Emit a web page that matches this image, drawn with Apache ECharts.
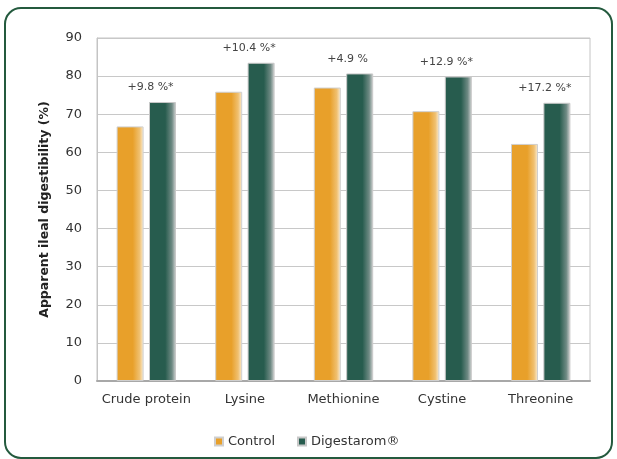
<!DOCTYPE html>
<html>
<head>
<meta charset="utf-8">
<script src="https://cdn.jsdelivr.net/npm/echarts@6/dist/echarts.min.js"></script>
<style>
  html, body { margin: 0; padding: 0; background: #fff; }
  #chart { width: 617px; height: 459px; }
</style>
</head>
<body>
<div id="chart"></div>
<script>
// Amino acid digestibility, control vs. Digestarom
const categories = ['Crude protein', 'Lysine', 'Methionine', 'Cystine', 'Threonine'];
const controlValues = [66.8, 75.9, 77.0, 70.8, 62.2];
const digestaromValues = [73.2, 83.5, 80.7, 79.9, 73.0];
const improvementLabels = ['+9.8 %*', '+10.4 %*', '+4.9 %', '+12.9 %*', '+17.2 %*'];
const yTicks = [0, 10, 20, 30, 40, 50, 60, 70, 80, 90];

const FONT = 'DejaVu Sans';

function barGradient(base, mid, edge) {
  return new echarts.graphic.LinearGradient(0, 0, 1, 0, [
    { offset: 0, color: base },
    { offset: 0.6, color: base },
    { offset: 0.85, color: mid },
    { offset: 1, color: edge }
  ]);
}

const chart = echarts.init(document.getElementById('chart'), null, { renderer: 'canvas' });

chart.setOption({
  backgroundColor: '#ffffff',
  animation: false,
  graphic: [{
    type: 'rect',
    shape: { x: 5, y: 8, width: 607, height: 450, r: 16 },
    style: { fill: 'none', stroke: '#245a3e', lineWidth: 2 },
    silent: true
  }],
  grid: {
    left: 97, right: 27, top: 38, bottom: 78,
    show: true, borderColor: '#c4c4c4', borderWidth: 1, backgroundColor: 'transparent'
  },
  legend: {
    left: 209, top: 430,
    itemWidth: 8, itemHeight: 8, itemGap: 22,
    icon: 'rect',
    textStyle: { fontFamily: FONT, fontSize: 13, color: '#333' },
    data: [
      { name: 'Control', itemStyle: { color: '#e8a02a' } },
      { name: 'Digestarom\u00AE', itemStyle: { color: '#275c4e' } }
    ]
  },
  xAxis: {
    type: 'category',
    data: categories,
    axisLine: { lineStyle: { color: '#a8a8a8', width: 2 } },
    axisTick: { show: false },
    axisLabel: { interval: 0, fontFamily: FONT, fontSize: 13, color: '#333', margin: 12 }
  },
  yAxis: {
    type: 'value',
    min: yTicks[0], max: yTicks[yTicks.length - 1], interval: 10,
    name: 'Apparent ileal digestibility (%)',
    nameLocation: 'middle',
    nameGap: 46,
    nameTextStyle: { fontFamily: FONT, fontSize: 12.5, fontWeight: 'bold', color: '#222' },
    axisLine: { show: true, lineStyle: { color: '#c4c4c4' } },
    axisTick: { show: false },
    axisLabel: { fontFamily: FONT, fontSize: 13, color: '#333', margin: 15 },
    splitLine: { lineStyle: { color: '#c8c8c8', width: 1 } }
  },
  series: [
    {
      name: 'Control',
      type: 'bar',
      data: controlValues,
      barWidth: 27,
      barGap: '20%',
      itemStyle: {
        color: barGradient('#e8a02a', '#f0c070', '#faeed8'),
        borderColor: '#cfcfcf', borderWidth: 1
      }
    },
    {
      name: 'Digestarom\u00AE',
      type: 'bar',
      data: digestaromValues,
      barWidth: 27,
      itemStyle: {
        color: barGradient('#275c4e', '#6f8a84', '#d6d6d6'),
        borderColor: '#c8c8c8', borderWidth: 1
      },
      label: {
        show: true,
        position: 'top',
        distance: 9,
        offset: [-12, 0],
        fontFamily: FONT,
        fontSize: 11,
        color: '#444',
        formatter: p => improvementLabels[p.dataIndex]
      }
    }
  ]
});
</script>
</body>
</html>
